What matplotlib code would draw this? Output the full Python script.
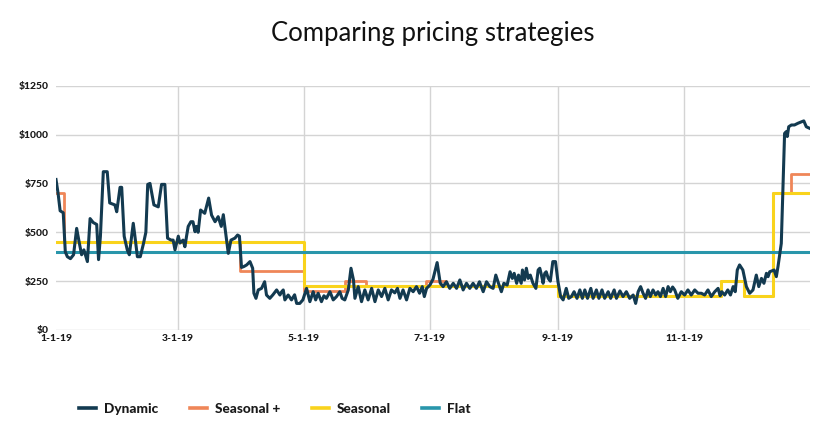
import numpy as np
import matplotlib
matplotlib.use("Agg")
import matplotlib.pyplot as plt
import matplotlib.dates as mdates

# ---------------- data ----------------
start_date = "2019-01-01"
end_date = "2020-01-01"
x_tick_dates = ["2019-01-01", "2019-03-01", "2019-05-01", "2019-07-01", "2019-09-01", "2019-11-01"]
x_tick_labels = ["1-1-19", "3-1-19", "5-1-19", "7-1-19", "9-1-19", "11-1-19"]
y_ticks = [0, 250, 500, 750, 1000, 1250]
y_tick_labels = ["$0", "$250", "$500", "$750", "$1000", "$1250"]

# Dynamic price: (day offset from Jan 1, price)
dynamic_days = [
    0, 1, 2, 3.5, 4.5, 5.5, 7, 8.5, 10, 11.2, 12.4, 13.5, 15.2, 16.5, 18, 19.7, 20.6, 21.5,
    22.9, 24.8, 26, 28.5, 29.4, 31, 31.8, 33, 34.5, 35.5, 37.4, 38.2, 39.4, 40.8, 42.3, 43.5,
    44.4, 45.5, 47.4, 49.5, 51.1, 52.7, 54, 55.7, 56.7, 57.6, 59.2, 60, 61.5, 62.4, 63.2, 64,
    65.3, 66.3, 67.3, 68, 68.8, 70, 72, 73.9, 75.3, 77, 78.5, 80, 81, 82.6, 83.4, 84.7, 86.6,
    87.9, 88.8, 89.8, 91, 92.3, 93.9, 95.2, 95.8, 96.8, 97.9, 99.5, 101, 101.9, 103.5, 105,
    106.8, 108.4, 109.2, 110, 110.8, 112.4, 114, 115.5, 116.5, 118, 119.5, 121.3, 122.9, 124.5,
    125.7, 126.9, 128.5, 129.7, 130.9, 132.6, 134.2, 135.8, 137.4, 138.5, 139.8, 141.5, 142.8,
    144, 144.7, 146.3, 147.9, 149.5, 151.1, 152.8, 154.4, 156, 157.6, 159.2, 160.8, 162.4, 164,
    165.3, 166.5, 168, 169.7, 171.3, 172.9, 174.5, 176, 177.3, 178.3, 179.4, 181, 182.5, 184.5,
    186, 187.4, 189, 190.6, 192.3, 193.9, 195.5, 197.1, 198.7, 200.3, 201.9, 203.5, 205, 206.8,
    208.4, 210, 211.6, 212.9, 214.2, 215.6, 216.8, 218.4, 219.8, 220.9, 221.8, 223, 223.9, 225.2,
    225.8, 226.8, 227.7, 228.6, 229.6, 230.9, 232.3, 233.4, 234.2, 235, 235.8, 236.6, 237.3,
    238.3, 239.3, 240.5, 241.8, 243, 244.3, 245.5, 247, 248.2, 249.5, 250.8, 252.2, 253.6, 254.8,
    256, 257.3, 258.9, 260, 261.6, 262.8, 264.3, 265.6, 267.3, 268.5, 270.2, 271.3, 273, 274.5,
    276.1, 277.7, 279.4, 280.6, 281.8, 283, 284.2, 285.4, 286.6, 287.7, 289, 290.3, 291.4, 292.6,
    293.9, 295.1, 296.3, 297.4, 298.5, 299.5, 301, 302.7, 304.3, 305.9, 307.5, 309.2, 310.8,
    312.4, 314, 315.6, 317.2, 318.9, 320.5, 321.5, 322.3, 323.7, 325.2, 326.5, 327.8, 328.8,
    329.8, 330.9, 332.5, 334.2, 335.8, 337.4, 339, 340.2, 341.5, 342.7, 343.9, 344.7, 345.5,
    347.6, 348.7, 349.5, 350.3, 351.1, 351.9, 352.7, 353.5, 354, 354.7, 356, 357.5, 359.2, 361,
    362, 363.2, 364.8,
]
dynamic_values = [
    770, 700, 610, 600, 400, 375, 365, 385, 520, 450, 385, 410, 350, 570, 550, 540, 360, 480,
    810, 810, 650, 640, 605, 730, 730, 480, 410, 385, 546, 480, 375, 375, 440, 500,
    745, 750, 640, 630, 745, 745, 470, 460, 460, 410, 480, 445, 460, 426, 480, 530,
    554, 554, 503, 530, 500, 614, 597, 675, 588, 554, 580, 530, 590, 460, 392, 460, 470,
    486, 480, 320, 325, 333, 350, 316, 188, 162, 205, 213, 247, 179, 162, 180,
    205, 179, 195, 205, 154, 179, 154, 180, 136, 136, 154, 213, 145, 196,
    154, 188, 145, 175, 162, 196, 154, 171, 196, 162, 154, 205, 316,
    256, 162, 222, 145, 205, 154, 213, 145, 205, 171, 213, 154, 205, 190,
    213, 162, 205, 154, 213, 196, 222, 188, 222, 171, 213, 230, 260, 345,
    240, 222, 247, 213, 239, 213, 256, 205, 239, 213, 239, 213, 247, 196,
    247, 222, 213, 281, 239, 196, 239, 230, 298, 264, 290, 239, 281, 239,
    307, 256, 316, 264, 281, 239, 213, 307, 316, 281, 239, 290, 298,
    264, 250, 350, 350, 247, 171, 154, 213, 162, 171, 196, 162, 205, 162,
    205, 162, 213, 162, 205, 162, 205, 162, 196, 162, 205, 162, 200, 171,
    196, 162, 179, 136, 196, 222, 188, 162, 205, 171, 205, 179, 196, 171,
    213, 171, 222, 196, 220, 205, 162, 196, 179, 205, 179, 205, 188,
    188, 179, 205, 171, 196, 213, 175, 196, 179, 205, 179, 222, 196,
    307, 333, 307, 222, 188, 205, 281, 222, 264, 239, 290, 273, 298,
    307, 273, 324, 384, 443, 733, 1006, 1015, 990, 1040, 1049, 1049, 1058, 1066,
    1070, 1040, 1032,
]

# Step series: change days and the price from that day on
seasonal_plus_days = [0, 4, 89, 120, 140, 150, 179, 189, 243, 322, 333, 347, 356, 365]
seasonal_plus_values = [700, 450, 300, 200, 250, 225, 250, 225, 175, 250, 175, 700, 800, 800]

seasonal_days = [0, 120, 243, 322, 333, 347, 365]
seasonal_values = [450, 225, 175, 250, 175, 700, 700]

flat_days = [0, 365]
flat_values = [400, 400]

# ---------------- plot ----------------
plt.rcParams["font.family"] = ["Lato", "DejaVu Sans"]

base = mdates.datestr2num(start_date)
to_x = lambda d: base + np.asarray(d, dtype=float)

fig = plt.figure(figsize=(8.28, 4.42), dpi=100)
ax = fig.add_axes([56 / 828, 1 - 330 / 442, (810 - 56) / 828, (330 - 85.7) / 442])

c_dyn = "#133a50"
c_splus = "#ef8658"
c_seas = "#f9d31c"
c_flat = "#2996ab"

ax.step(to_x(seasonal_plus_days), seasonal_plus_values, where="post", color=c_splus, lw=2.0,
        zorder=2, label="Seasonal +")
ax.step(to_x(seasonal_days), seasonal_values, where="post", color=c_seas, lw=2.2,
        zorder=3, label="Seasonal")
ax.plot(to_x(flat_days), flat_values, color=c_flat, lw=2.2, zorder=4, label="Flat")
ax.plot(to_x(dynamic_days), dynamic_values, color=c_dyn, lw=2.2, zorder=5,
        solid_joinstyle="round", label="Dynamic")

ax.set_xlim(base, mdates.datestr2num(end_date))
ax.set_ylim(0, 1250)

ax.set_xticks([mdates.datestr2num(d) for d in x_tick_dates])
ax.set_xticklabels(x_tick_labels)
ax.set_yticks(y_ticks)
ax.set_yticklabels(y_tick_labels)

for s in ax.spines.values():
    s.set_visible(False)
ax.tick_params(length=0, labelsize=7.5, colors="#1a1a1a")
ax.tick_params(axis="y", pad=5)
ax.tick_params(axis="x", pad=3)
for lbl in ax.get_xticklabels() + ax.get_yticklabels():
    lbl.set_fontweight(900)

ax.grid(True, color="#d4d4d4", lw=1.0, zorder=0)
ax.set_axisbelow(True)
ax.get_xgridlines()[0].set_visible(False)

fig.text(433 / 828, 1 - 33 / 442, "Comparing pricing strategies", ha="center", va="center",
         fontsize=18.5, color="#111111")

h, l = ax.get_legend_handles_labels()
order = [l.index(n) for n in ["Dynamic", "Seasonal +", "Seasonal", "Flat"]]
leg = fig.legend([h[i] for i in order], [l[i] for i in order], ncol=4, loc="center left",
                 bbox_to_anchor=(79 / 828, 1 - 409 / 442), frameon=False,
                 prop={"weight": 900, "size": 9.8}, handlelength=1.25, handletextpad=0.6,
                 columnspacing=2.3, borderpad=0, borderaxespad=0)
for t in leg.get_texts():
    t.set_color("#1a1a1a")
for ln in leg.get_lines():
    ln.set_linewidth(2.6)

fig.savefig("out.png", dpi=100)
